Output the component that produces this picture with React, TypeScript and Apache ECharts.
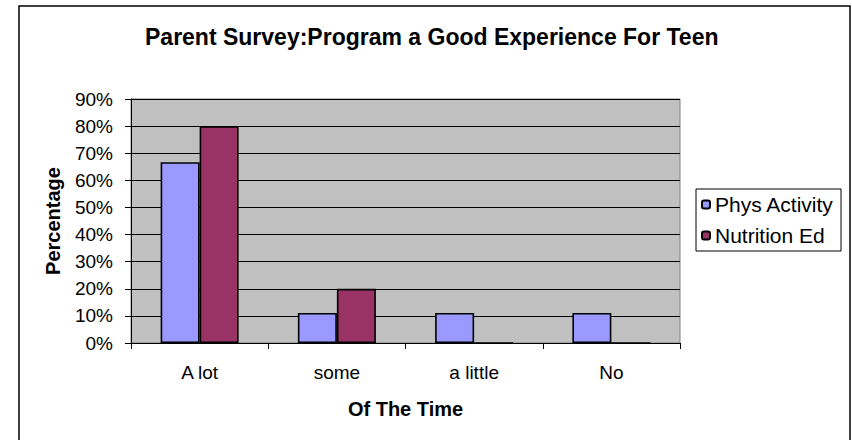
import React, { useEffect, useRef } from "react";
import * as echarts from "echarts";

const categories = ["A lot", "some", "a little", "No"];
const physActivity = [0.667, 0.111, 0.111, 0.111];
const nutritionEd = [0.8, 0.2, 0, 0];
const seriesNames = ["Phys Activity", "Nutrition Ed"];

const FONT = "Liberation Sans, Arial, sans-serif";

export default function App() {
  const ref = useRef<HTMLDivElement>(null);

  useEffect(() => {
    if (!ref.current) return;
    const chart = echarts.init(ref.current, undefined, { renderer: "svg" });
    chart.setOption({
      animation: false,
      backgroundColor: "#ffffff",
      textStyle: { fontFamily: FONT, color: "#000" },
      title: {
        text: "Parent Survey:Program a Good Experience For Teen",
        left: 145,
        top: 25,
        padding: 0,
        textStyle: { fontFamily: FONT, fontSize: 23, fontWeight: "bold", color: "#000" },
      },
      legend: {
        orient: "vertical",
        left: 696,
        top: 189,
        padding: [5, 7, 5, 5],
        itemWidth: 8,
        itemHeight: 8,
        itemGap: 10,
        borderColor: "#000",
        borderWidth: 1,
        backgroundColor: "#fff",
        data: seriesNames,
        textStyle: { fontFamily: FONT, fontSize: 21, color: "#000", lineHeight: 20 },
      },
      grid: {
        left: 131,
        top: 99,
        width: 549,
        height: 244,
        show: true,
        backgroundColor: "#C0C0C0",
        borderColor: "#808080",
        borderWidth: 1,
      },
      xAxis: {
        type: "category",
        data: categories,
        name: "Of The Time",
        nameLocation: "middle",
        nameGap: 56,
        nameTextStyle: { fontFamily: FONT, fontSize: 20, fontWeight: "bold", color: "#000" },
        axisLine: { lineStyle: { color: "#000", width: 1 } },
        axisTick: { show: true, length: 6, lineStyle: { color: "#000" } },
        axisLabel: { fontFamily: FONT, fontSize: 19, color: "#000", margin: 20 },
      },
      yAxis: {
        type: "value",
        min: 0,
        max: 0.9,
        interval: 0.1,
        name: "Percentage",
        nameLocation: "middle",
        nameGap: 68,
        nameTextStyle: { fontFamily: FONT, fontSize: 20, fontWeight: "bold", color: "#000" },
        axisLine: { show: true, lineStyle: { color: "#000", width: 1 } },
        axisTick: { show: true, length: 6, lineStyle: { color: "#000" } },
        axisLabel: {
          fontFamily: FONT,
          fontSize: 19,
          color: "#000",
          margin: 18,
          formatter: (v: number) => Math.round(v * 100) + "%",
        },
        splitLine: { show: true, lineStyle: { color: "#000", width: 1 } },
      },
      series: [
        {
          name: seriesNames[0],
          type: "bar",
          data: physActivity,
          barWidth: 39,
          barGap: "0%",
          itemStyle: { color: "#9999FF", borderColor: "#000", borderWidth: 1.6 },
        },
        {
          name: seriesNames[1],
          type: "bar",
          data: nutritionEd,
          barWidth: 39,
          barGap: "0%",
          itemStyle: { color: "#993366", borderColor: "#000", borderWidth: 1.6 },
        },
      ],
      graphic: [
        {
          type: "rect",
          shape: { x: 19, y: 6, width: 831, height: 450 },
          style: { fill: "none", stroke: "#000", lineWidth: 1.5 },
          silent: true,
          z: 100,
        },
      ],
    });
    return () => chart.dispose();
  }, []);

  return (
    <div
      ref={ref}
      style={{ position: "fixed", left: 0, top: 0, width: 852, height: 440 }}
    />
  );
}
